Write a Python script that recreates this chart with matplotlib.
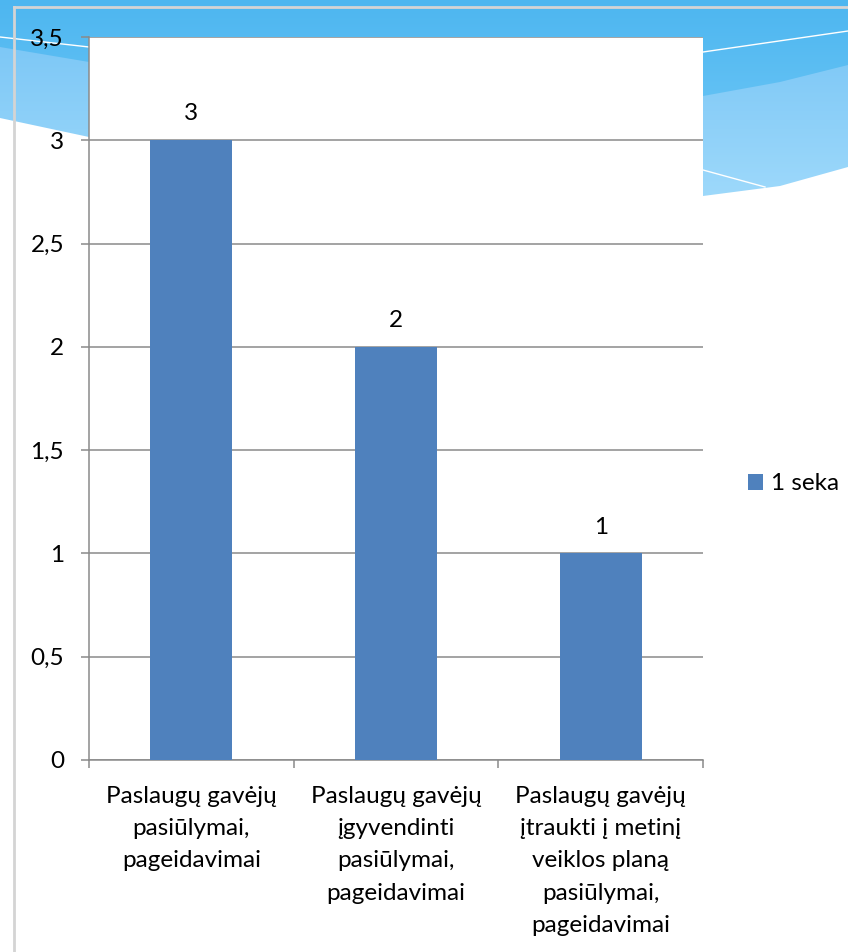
import numpy as np
import matplotlib
matplotlib.use("Agg")
import matplotlib.pyplot as plt
from matplotlib.patches import Polygon
from matplotlib.ticker import FuncFormatter, MultipleLocator

plt.rcParams['font.family'] = ['Lato', 'DejaVu Sans']

# --- data -------------------------------------------------------------
categories = [
    "Paslaugų gavėjų\npasiūlymai,\npageidavimai",
    "Paslaugų gavėjų\nįgyvendinti\npasiūlymai,\npageidavimai",
    "Paslaugų gavėjų\nįtraukti į metinį\nveiklos planą\npasiūlymai,\npageidavimai",
]
values = [3, 2, 1]
series_name = "1 seka"

BAR_COLOR = "#4F81BD"
GRID_COLOR = "#8A8A8A"
FS = 17.5

W, H = 848, 952
fig = plt.figure(figsize=(W / 100, H / 100), dpi=100)

# --- slide background: blue wave band at the top ----------------------
bg = fig.add_axes([0, 0, 1, 1], zorder=0)
bg.set_xlim(0, W)
bg.set_ylim(H, 0)
bg.axis("off")

def gradient_fill(ax, pts, c_top, c_bot, y0, y1):
    poly = Polygon(pts, closed=True, facecolor="none", edgecolor="none")
    ax.add_patch(poly)
    grad = np.linspace(0, 1, 256).reshape(-1, 1)
    ct = np.array(matplotlib.colors.to_rgb(c_top))
    cb = np.array(matplotlib.colors.to_rgb(c_bot))
    img = ct + (cb - ct) * grad[..., None]
    im = ax.imshow(img, extent=[0, W, y1, y0], aspect="auto", zorder=1)
    im.set_clip_path(poly)

xs_low = [0, 89, 300, 500, 650, 703, 780, 848]
ys_low = [118, 137, 170, 190, 197, 196, 186, 167]
xs_mid = [0, 89, 300, 500, 650, 703, 780, 848]
ys_mid = [47, 62, 85, 100, 100, 96, 82, 65]

light = list(zip(xs_low, ys_low)) + [(848, 0), (0, 0)]
gradient_fill(bg, light, "#7CC7F6", "#9ED9FB", 40, 200)
dark = list(zip(xs_mid, ys_mid)) + [(848, 0), (0, 0)]
gradient_fill(bg, dark, "#4DB6F0", "#62C1F4", 0, 100)

bg.plot([0, 89, 300, 500, 703, 848], [37, 47, 60, 62, 52, 31],
        color="white", lw=1.0, zorder=2)
bg.plot([600, 703, 765], [140, 170, 187], color="white", lw=1.0, zorder=2)

# frame line of the slide
bg.plot([14, 14], [H, 7], color="#D4D4D4", lw=2, zorder=3)
bg.plot([14, W], [7, 7], color="#D4D4D4", lw=2, zorder=3)

# --- chart ----------------------------------------------------------
ax = fig.add_axes([89 / W, 1 - 760 / H, (703 - 89) / W, (760 - 37) / H], zorder=1)
ax.set_facecolor("white")

x = np.arange(len(categories))
bars = ax.bar(x, values, width=0.4, color=BAR_COLOR, zorder=3, label=series_name)

ax.set_xlim(-0.5, len(categories) - 0.5)
ax.set_ylim(0, 3.5)
ax.yaxis.set_major_locator(MultipleLocator(0.5))
ax.yaxis.set_major_formatter(FuncFormatter(
    lambda v, _: (f"{v:g}").replace(".", ",")))
ax.grid(axis="y", color=GRID_COLOR, lw=1.1, zorder=0)
ax.set_axisbelow(True)

for s in ["top", "right"]:
    ax.spines[s].set_visible(False)
for s in ["left", "bottom"]:
    ax.spines[s].set_color(GRID_COLOR)
    ax.spines[s].set_linewidth(1.1)

ax.tick_params(axis="y", length=6, width=1.1, color=GRID_COLOR,
               labelsize=FS, pad=12)
ax.set_xticks(x)
ax.set_xticklabels(categories, fontsize=FS, linespacing=1.65)
ax.tick_params(axis="x", which="major", length=0, pad=19)
ax.set_xticks(np.arange(-0.5, len(categories)), minor=True)
ax.tick_params(axis="x", which="minor", length=6, width=1.1, color=GRID_COLOR)

for rect, v in zip(bars, values):
    ax.annotate(f"{v}", (rect.get_x() + rect.get_width() / 2, v),
                xytext=(0, 19), textcoords="offset points",
                ha="center", va="center", fontsize=FS)

fig.legend(handles=[bars], labels=[series_name], loc="center left",
           bbox_to_anchor=(736 / W, 1 - 484 / H), frameon=False,
           fontsize=FS, handlelength=0.6, handleheight=0.6,
           handletextpad=0.35, borderpad=0)

fig.savefig("out.png", dpi=100)
